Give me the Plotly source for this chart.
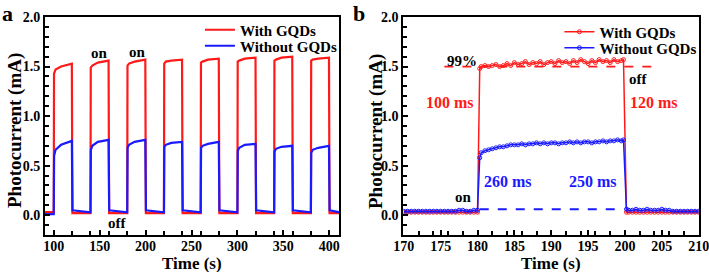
import plotly.graph_objects as go

# ---------------- Panel a data ----------------
on_times_a = [100, 140, 180, 220, 260, 300, 340, 380]
red_rise_a = [1.43, 1.49, 1.51, 1.53, 1.54, 1.55, 1.56, 1.56]
red_early_a = [1.47, 1.51, 1.53, 1.55, 1.55, 1.56, 1.57, 1.57]
red_mid_a = [1.50, 1.54, 1.55, 1.56, 1.57, 1.58, 1.59, 1.58]
red_end_a = [1.53, 1.56, 1.57, 1.57, 1.58, 1.59, 1.60, 1.59]
red_off_a = [0.02, 0.02, 0.02, 0.02, 0.02, 0.02, 0.02, 0.02]
blue_rise_a = [0.60, 0.66, 0.68, 0.69, 0.68, 0.65, 0.64, 0.63]
blue_early_a = [0.66, 0.70, 0.71, 0.71, 0.70, 0.68, 0.67, 0.66]
blue_mid_a = [0.71, 0.74, 0.74, 0.73, 0.72, 0.71, 0.69, 0.68]
blue_end_a = [0.75, 0.76, 0.76, 0.74, 0.74, 0.72, 0.70, 0.70]
blue_off_start_a = [0.05, 0.05, 0.05, 0.05, 0.05, 0.05, 0.05, 0.05]
blue_off_end_a = [0.03, 0.03, 0.03, 0.03, 0.03, 0.03, 0.03, 0.03]
pre_red_a = 0.03
pre_blue_a = 0.01

# ---------------- Panel b data ----------------
t_base_pre_b = [170.0, 170.5, 171.0, 171.5, 172.0, 172.5, 173.0, 173.5, 174.0, 174.5,
                175.0, 175.5, 176.0, 176.5, 177.0, 177.5, 178.0, 178.5, 179.0, 179.5, 180.0]
red_base_pre_b = [0.03, 0.03, 0.03, 0.03, 0.03, 0.03, 0.03, 0.03, 0.03, 0.03,
                  0.03, 0.03, 0.03, 0.03, 0.03, 0.03, 0.03, 0.03, 0.03, 0.03, 0.03]
blue_base_pre_b = [0.04, 0.04, 0.04, 0.04, 0.04, 0.04, 0.04, 0.04, 0.04, 0.04,
                   0.04, 0.04, 0.04, 0.04, 0.04, 0.05, 0.05, 0.04, 0.04, 0.05, 0.05]
t_plat_b = [180.5, 181.0, 181.5, 182.0, 182.5, 183.0, 183.5, 184.0, 184.5, 185.0,
            185.5, 186.0, 186.5, 187.0, 187.5, 188.0, 188.5, 189.0, 189.5, 190.0,
            190.5, 191.0, 191.5, 192.0, 192.5, 193.0, 193.5, 194.0, 194.5, 195.0,
            195.5, 196.0, 196.5, 197.0, 197.5, 198.0, 198.5, 199.0, 199.5, 199.8]
red_plat_b = [1.50, 1.51, 1.50, 1.51, 1.52, 1.50, 1.51, 1.53, 1.51, 1.54,
              1.52, 1.53, 1.55, 1.52, 1.54, 1.53, 1.55, 1.52, 1.54, 1.55,
              1.53, 1.56, 1.54, 1.55, 1.53, 1.56, 1.54, 1.57, 1.55, 1.53,
              1.56, 1.54, 1.57, 1.55, 1.56, 1.54, 1.57, 1.55, 1.56, 1.57]
blue_plat_b = [0.63, 0.65, 0.66, 0.67, 0.68, 0.69, 0.69, 0.70, 0.71, 0.71,
               0.71, 0.72, 0.71, 0.72, 0.72, 0.73, 0.72, 0.73, 0.72, 0.73,
               0.73, 0.72, 0.73, 0.73, 0.74, 0.73, 0.74, 0.73, 0.74, 0.74,
               0.73, 0.74, 0.74, 0.75, 0.74, 0.75, 0.75, 0.76, 0.75, 0.76]
t_base_post_b = [200.2, 200.5, 201.0, 201.5, 202.0, 202.5, 203.0, 203.5, 204.0, 204.5,
                 205.0, 205.5, 206.0, 206.5, 207.0, 207.5, 208.0, 208.5, 209.0, 209.5, 210.0]
red_base_post_b = [0.03, 0.03, 0.03, 0.03, 0.03, 0.03, 0.03, 0.03, 0.03, 0.03,
                   0.03, 0.03, 0.03, 0.03, 0.03, 0.03, 0.03, 0.03, 0.03, 0.03, 0.03]
blue_base_post_b = [0.06, 0.05, 0.05, 0.06, 0.05, 0.05, 0.06, 0.05, 0.05, 0.05,
                    0.06, 0.05, 0.05, 0.04, 0.04, 0.04, 0.04, 0.04, 0.04, 0.04, 0.04]
red_rise_t_b, red_rise_v_b = 180.3, 1.48
blue_rise_t_b, blue_rise_v_b = 180.3, 0.58
ref99_x_b = [175.5, 204.2]
ref99_y_b = [1.50, 1.50]
base_dash_x_b = [180.3, 199.8]
base_dash_y_b = [0.06, 0.06]

RED = "#ff1a1a"
BLUE = "#1a1aff"
FONT = "Liberation Serif"

# ---- assemble panel a traces from read values ----
red_a_t, red_a_v = [90, 100], [pre_red_a, pre_red_a]
blue_a_t, blue_a_v = [90, 100], [pre_blue_a, pre_blue_a]
for i, t0 in enumerate(on_times_a):
    red_a_t += [t0 + 0.3, t0 + 2, t0 + 8, t0 + 19.7, t0 + 20.3, t0 + 40]
    red_a_v += [red_rise_a[i], red_early_a[i], red_mid_a[i], red_end_a[i], red_off_a[i], red_off_a[i]]
    blue_a_t += [t0 + 0.4, t0 + 2, t0 + 8, t0 + 19.7, t0 + 20.4, t0 + 40]
    blue_a_v += [blue_rise_a[i], blue_early_a[i], blue_mid_a[i], blue_end_a[i],
                 blue_off_start_a[i], blue_off_end_a[i]]
red_a_t[-1] = 411
blue_a_t[-1] = 411

red_b_t = t_base_pre_b + [red_rise_t_b] + t_plat_b + t_base_post_b
red_b_v = red_base_pre_b + [red_rise_v_b] + red_plat_b + red_base_post_b
blue_b_t = t_base_pre_b + [blue_rise_t_b] + t_plat_b + t_base_post_b
blue_b_v = blue_base_pre_b + [blue_rise_v_b] + blue_plat_b + blue_base_post_b

fig = go.Figure()
fig.add_trace(go.Scatter(x=red_a_t, y=red_a_v, mode="lines", name="With GQDs",
                         line=dict(color=RED, width=2.2), xaxis="x", yaxis="y", legend="legend"))
fig.add_trace(go.Scatter(x=blue_a_t, y=blue_a_v, mode="lines", name="Without GQDs",
                         line=dict(color=BLUE, width=2.2), xaxis="x", yaxis="y", legend="legend2"))

fig.add_trace(go.Scatter(x=red_b_t, y=red_b_v, mode="lines+markers", name="With GQDs",
                         line=dict(color=RED, width=1.5),
                         marker=dict(symbol="circle-open", size=4, color=RED, line=dict(width=1)),
                         xaxis="x2", yaxis="y2", legend="legend3"))
fig.add_trace(go.Scatter(x=blue_b_t, y=blue_b_v, mode="lines+markers", name="Without GQDs",
                         line=dict(color=BLUE, width=1.5),
                         marker=dict(symbol="circle-open", size=4, color=BLUE, line=dict(width=1)),
                         xaxis="x2", yaxis="y2", legend="legend4"))
fig.add_trace(go.Scatter(x=ref99_x_b, y=ref99_y_b, mode="lines", showlegend=False,
                         line=dict(color=RED, width=1.8, dash="dash"), xaxis="x2", yaxis="y2"))
fig.add_trace(go.Scatter(x=base_dash_x_b, y=base_dash_y_b, mode="lines", showlegend=False,
                         line=dict(color=BLUE, width=1.8, dash="dash"), xaxis="x2", yaxis="y2"))

axis_common = dict(showline=True, linecolor="black", linewidth=2, mirror=True,
                   ticks="inside", ticklen=5, tickwidth=2, tickcolor="black",
                   showgrid=False, zeroline=False, automargin=False,
                   ticklabeloverflow="allow",
                   tickfont=dict(family=FONT, size=14, color="black", weight="bold"),
                   minor=dict(ticks="inside", ticklen=4, tickwidth=2, tickcolor="black"))
leg_font = dict(family=FONT, size=15, color="black", weight="bold")

def leg(x, y):
    return dict(x=x, y=y, xanchor="left", yanchor="middle", bgcolor="rgba(0,0,0,0)",
                font=leg_font, itemwidth=30, borderwidth=0)

fig.update_layout(
    width=709, height=272, margin=dict(l=0, r=0, t=0, b=0),
    paper_bgcolor="white", plot_bgcolor="white",
    xaxis=dict(domain=[0.0635, 0.478], range=[90.5, 410.5], anchor="y", ticklabelstandoff=-3,
               tickvals=[100, 150, 200, 250, 300, 350, 400], **axis_common),
    yaxis=dict(domain=[0.136, 0.9375], range=[-0.2, 2.0], anchor="x",
               tickvals=[0.0, 0.5, 1.0, 1.5, 2.0], tickformat=".1f", **axis_common),
    xaxis2=dict(domain=[0.569, 0.986], range=[169.95, 210.05], anchor="y2", ticklabelstandoff=-3,
                tickvals=[170, 175, 180, 185, 190, 195, 200, 205, 210], **axis_common),
    yaxis2=dict(domain=[0.136, 0.9375], range=[-0.2, 2.0], anchor="x2",
                tickvals=[0.0, 0.5, 1.0, 1.5, 2.0], tickformat=".1f", **axis_common),
    legend=leg(0.282, 1 - 30 / 272),
    legend2=leg(0.282, 1 - 46 / 272),
    legend3=leg(0.789, 1 - 32 / 272),
    legend4=leg(0.789, 1 - 48 / 272),
    showlegend=True,
)

def ann(text, x, y, xref, yref, color="black", size=15, angle=0, xa="center", ya="middle"):
    fig.add_annotation(text=text, x=x, y=y, xref=xref, yref=yref, showarrow=False, textangle=angle,
                       xanchor=xa, yanchor=ya, borderpad=0,
                       font=dict(family=FONT, size=size, color=color, weight="bold"))

# axis titles
ann("Time (s)", 192 / 709, 1 - 263 / 272, "paper", "paper", size=17)
ann("Time (s)", 551 / 709, 1 - 263 / 272, "paper", "paper", size=17)
ann("Photocurrent (mA)", 15 / 709, 1 - 131 / 272, "paper", "paper", size=19, angle=-90)
ann("Photocurrent (mA)", 376 / 709, 1 - 131 / 272, "paper", "paper", size=19, angle=-90)

# panel a annotations
ann("on", 150, 1.64, "x", "y", size=15)
ann("on", 191, 1.65, "x", "y", size=15)
ann("off", 169, -0.08, "x", "y", size=15)
# panel b annotations
ann("99%", 177.9, 1.56, "x2", "y2", size=15)
ann("100 ms", 176.3, 1.14, "x2", "y2", color=RED, size=16)
ann("120 ms", 203.9, 1.14, "x2", "y2", color=RED, size=16)
ann("off", 201.7, 1.37, "x2", "y2", size=15)
ann("260 ms", 184.2, 0.34, "x2", "y2", color=BLUE, size=16)
ann("250 ms", 195.6, 0.34, "x2", "y2", color=BLUE, size=16)
ann("on", 178.1, 0.18, "x2", "y2", size=15)
# panel letters
ann("a", 1 / 709, 1.0, "paper", "paper", size=22, xa="left", ya="top")
ann("b", 352 / 709, 1.0, "paper", "paper", size=22, xa="left", ya="top")

fig.write_html("out.html", config={"displayModeBar": False},
               post_script="document.body.style.margin='0px';")
